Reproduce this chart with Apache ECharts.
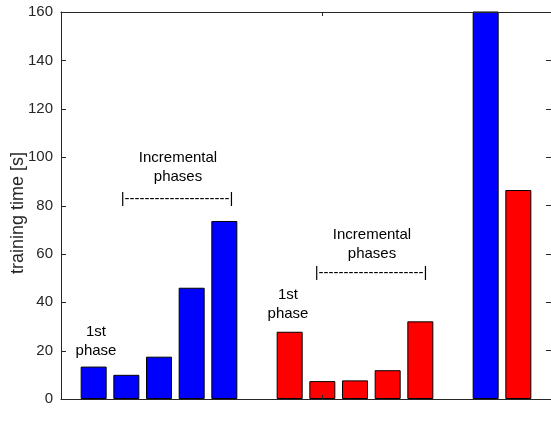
<!DOCTYPE html>
<html>
<head>
<meta charset="utf-8">
<script src="https://cdn.jsdelivr.net/npm/echarts@6/dist/echarts.min.js"></script>
<style>
  html, body { margin: 0; padding: 0; background: #fff; }
  #chart { width: 551px; height: 425px; }
</style>
</head>
<body>
<div id="chart"></div>
<script>
// bar positions on the x axis and heights
const standardPos = [1, 2, 3, 4, 5];
const standardBLS = [13.4, 10.0, 17.5, 46.0, 73.6];
const hybridPos = [7, 8, 9, 10, 11];
const hybridBLS = [27.8, 7.4, 7.7, 11.9, 32.1];
const compPos = [13, 14];
const compValues = [160.5, 86.4];

const groupNames = ['Standard BLS', 'Hybrid Recursive BLS', 'Comp.'];
const groupCenters = [3.15, 8.9, 13.35];
const innerYTicks = [20, 40, 60, 80, 100, 120, 140];
const xTickValues = [8];

const FONT = '"Liberation Sans", Arial, Helvetica, sans-serif';
const AXIS = '#262626';
const DASHES = '|' + '-'.repeat(21) + '|';

const blueData = standardPos.map((x, i) => [x, standardBLS[i]]);
blueData.push([compPos[0], compValues[0]]);
const redData = hybridPos.map((x, i) => [x, hybridBLS[i]]);
redData.push([compPos[1], compValues[1]]);

const chart = echarts.init(document.getElementById('chart'));

function note(text, x, y) {
  return {
    type: 'text', x: x, y: y,
    style: {
      text: text, fill: '#000', font: '15px ' + FONT,
      align: 'center', verticalAlign: 'middle', lineHeight: 19
    }
  };
}

function line() {
  return { show: true, onZero: false, lineStyle: { color: AXIS, width: 1 } };
}

const option = {
  animation: false,
  textStyle: { fontFamily: FONT },
  grid: { left: 61, right: -1, top: 12, bottom: 26, show: false },
  xAxis: [
    {
      type: 'value', min: 0, max: 15, position: 'bottom', z: 10,
      splitLine: { show: false },
      axisLine: line(),
      axisTick: { show: false },
      axisLabel: {
        show: true, customValues: groupCenters, margin: 11,
        color: AXIS, fontSize: 15, fontFamily: FONT,
        formatter: (v, i) => groupNames[i]
      }
    },
    {
      type: 'value', min: 0, max: 15, position: 'top', z: 10,
      splitLine: { show: false },
      axisLine: line(),
      axisTick: { show: true, inside: true, length: 4, customValues: xTickValues, lineStyle: { color: AXIS } },
      axisLabel: { show: false }
    }
  ],
  yAxis: [
    {
      type: 'value', min: 0, max: 160, interval: 20, position: 'left', z: 10,
      splitLine: { show: false },
      axisLine: line(),
      axisTick: { show: false },
      axisLabel: { color: AXIS, fontSize: 15, fontFamily: FONT, margin: 8 }
    },
    {
      type: 'value', min: 0, max: 160, interval: 20, position: 'right', z: 10,
      splitLine: { show: false },
      axisLine: line(),
      axisTick: { show: true, inside: true, length: 5, lineStyle: { color: AXIS } },
      axisLabel: { show: false }
    }
  ],
  series: [
    {
      type: 'bar', name: 'blue', data: blueData,
      barWidth: 26, barGap: '-100%', clip: true,
      itemStyle: { color: '#0000ff', borderColor: '#000', borderWidth: 1 }
    },
    {
      type: 'bar', name: 'red', data: redData,
      barWidth: 26, barGap: '-100%', clip: true,
      itemStyle: { color: '#ff0000', borderColor: '#000', borderWidth: 1 }
    }
  ],
  graphic: [
    note('Incremental\nphases', 178, 167.5),
    note(DASHES, 177, 199),
    note('1st\nphase', 96, 341.5),
    note('Incremental\nphases', 372, 244),
    note(DASHES, 371, 273),
    note('1st\nphase', 288, 304.5),
    {
      type: 'text', x: 18, y: 213, rotation: Math.PI / 2,
      style: {
        text: 'training time [s]', fill: AXIS, font: '18px ' + FONT,
        align: 'center', verticalAlign: 'middle'
      }
    }
  ]
};

chart.setOption(option);

// inside ticks on the left and bottom edges, placed through the axes' own scales
const x0 = chart.convertToPixel({ xAxisIndex: 0 }, 0);
const y0 = chart.convertToPixel({ yAxisIndex: 0 }, 0);
const tickLines = [];
innerYTicks.forEach(v => {
  const y = Math.round(chart.convertToPixel({ yAxisIndex: 0 }, v)) + 0.5;
  tickLines.push({
    type: 'line', z: 100, silent: true,
    shape: { x1: x0, y1: y, x2: x0 + 5, y2: y },
    style: { stroke: AXIS, lineWidth: 1 }
  });
});
xTickValues.forEach(v => {
  const x = Math.round(chart.convertToPixel({ xAxisIndex: 0 }, v)) + 0.5;
  tickLines.push({
    type: 'line', z: 100, silent: true,
    shape: { x1: x, y1: y0, x2: x, y2: y0 - 4 },
    style: { stroke: AXIS, lineWidth: 1 }
  });
});
chart.setOption({ graphic: option.graphic.concat(tickLines) });
</script>
</body>
</html>
